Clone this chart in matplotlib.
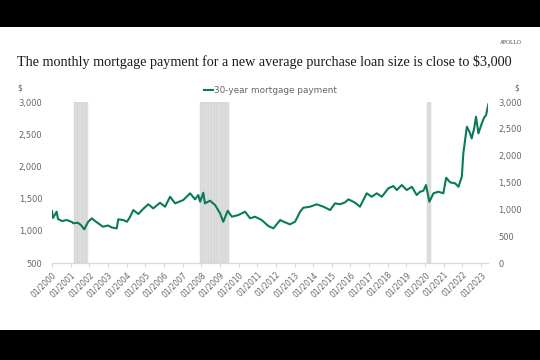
import matplotlib.pyplot as plt
from matplotlib.patches import Rectangle

# decimal year / monthly payment ($)
years = [2000.00, 2000.05, 2000.25, 2000.32, 2000.54, 2000.80, 2001.07, 2001.14, 2001.39, 2001.55,
         2001.73, 2001.93, 2002.13, 2002.31, 2002.48, 2002.73, 2003.00, 2003.22, 2003.47, 2003.55,
         2003.82, 2004.02, 2004.18, 2004.36, 2004.63, 2004.88, 2005.16, 2005.43, 2005.79, 2006.06,
         2006.33, 2006.60, 2007.04, 2007.40, 2007.67, 2007.84, 2007.94, 2008.11, 2008.20, 2008.47,
         2008.74, 2009.01, 2009.18, 2009.42, 2009.64, 2009.99, 2010.35, 2010.62, 2010.88, 2011.24,
         2011.60, 2011.87, 2012.23, 2012.49, 2012.76, 2013.03, 2013.30, 2013.47, 2013.83, 2014.19,
         2014.55, 2014.91, 2015.17, 2015.44, 2015.71, 2015.89, 2016.25, 2016.51, 2016.87, 2017.14,
         2017.41, 2017.68, 2018.03, 2018.30, 2018.48, 2018.75, 2019.02, 2019.29, 2019.55, 2019.73,
         2019.91, 2020.05, 2020.23, 2020.45, 2020.71, 2020.98, 2021.13, 2021.34, 2021.61, 2021.79,
         2021.97, 2022.05, 2022.24, 2022.38, 2022.50, 2022.63, 2022.73, 2022.86, 2023.04, 2023.16,
         2023.27, 2023.39]
payment = [969, 838, 956, 820, 782, 801, 764, 740, 751, 708,
           628, 764, 833, 782, 740, 676, 699, 661, 646, 814,
           801, 769, 857, 987, 913, 1006, 1094, 1019, 1123, 1049,
           1235, 1112, 1174, 1299, 1187, 1267, 1142, 1310, 1112, 1161,
           1081, 926, 769, 974, 863, 894, 956, 833, 863, 801,
           689, 646, 801, 758, 721, 769, 956, 1030, 1049, 1094,
           1049, 987, 1112, 1094, 1131, 1187, 1123, 1049, 1299, 1235,
           1299, 1235, 1392, 1435, 1360, 1453, 1360, 1421, 1267, 1328,
           1347, 1453, 1142, 1299, 1328, 1299, 1589, 1503, 1485, 1421,
           1608, 2044, 2539, 2446, 2323, 2509, 2726, 2416, 2603, 2707,
           2757, 2957]

# NBER recessions (start, end) in decimal years
recessions = [(2001.17, 2001.92), (2007.92, 2009.50), (2020.08, 2020.33)]

tick_years = list(range(2000, 2024))
tick_labels = [f"01/{y}" for y in tick_years]

GREEN = '#0b7a5c'
GREY = '#666666'

fig = plt.figure(figsize=(5.4, 3.6), dpi=100)
fig.patch.set_facecolor('black')
fig.add_artist(Rectangle((0, 30 / 360), 1, 303 / 360, transform=fig.transFigure,
                         facecolor='white', edgecolor='none', zorder=0))

ax = fig.add_axes([0.0963, 0.2694, 0.808, 0.4472])
ax.set_facecolor('none')
ax2 = ax.twinx()

# recession shading, one bar per month to get the striped look
for start, end in recessions:
    m = start
    while m < end - 1e-6:
        ax.axvspan(m, min(m + 1 / 12, end), color='#e3e3e3', ec='#cfcfcf', lw=0.3, zorder=1)
        m += 1 / 12

ax2.plot(years, payment, color=GREEN, linewidth=1.5, label='30-year mortgage payment', zorder=3)

ax.set_xlim(2000, 2023.39)
ax.set_ylim(500, 3000)
ax2.set_ylim(0, 3000)
ax.set_yticks(range(500, 3001, 500))
ax2.set_yticks(range(0, 3001, 500))
ax.set_yticklabels([f"{v:,}" for v in range(500, 3001, 500)])
ax2.set_yticklabels([f"{v:,}" for v in range(0, 3001, 500)])

ax.set_xticks(tick_years)
ax.set_xticklabels(tick_labels, rotation=45, ha='right', rotation_mode='anchor')

for a in (ax, ax2):
    for s in ('top', 'left', 'right'):
        a.spines[s].set_visible(False)
    a.spines['bottom'].set_color('#d9d9d9')
    a.tick_params(axis='y', length=0, labelsize=6, labelcolor=GREY, pad=7)
ax.tick_params(axis='x', length=3, color='#d9d9d9', labelsize=5.5, labelcolor=GREY, pad=2)

fig.text(0.0315, 0.756, '$', fontsize=5.5, color=GREY, ha='left', va='center')
fig.text(0.962, 0.756, '$', fontsize=5.5, color=GREY, ha='right', va='center')

leg = ax2.legend(loc='lower center', bbox_to_anchor=(0.5, 1.0), frameon=False,
                 fontsize=6.4, handlelength=1.0, handletextpad=0.1, borderaxespad=0.4)
for t in leg.get_texts():
    t.set_color(GREY)

fig.text(0.031, 0.828, 'The monthly mortgage payment for a new average purchase loan size is close to $3,000',
         fontsize=10.2, family='Liberation Serif', color='#1a1a1a', ha='left', va='center')
fig.text(0.966, 0.883, 'APOLLO', fontsize=4, family='Liberation Serif', color='#333333',
         ha='right', va='center')

fig.savefig('out.png', dpi=100, facecolor=fig.get_facecolor())
